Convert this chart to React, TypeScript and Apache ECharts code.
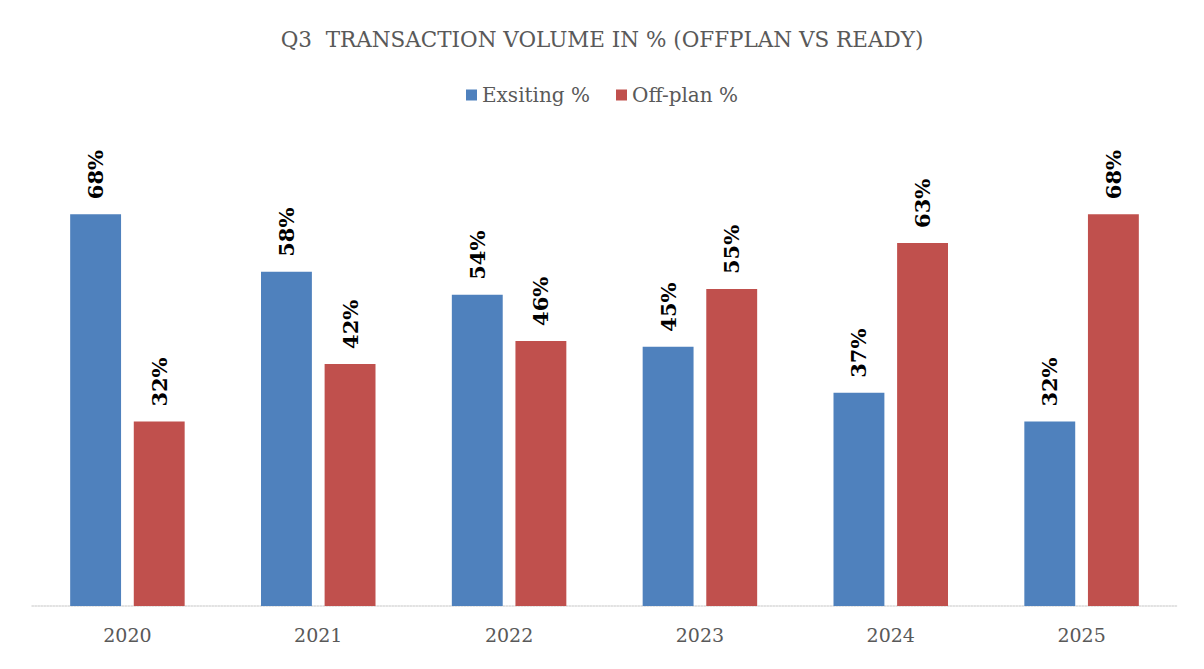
import React, { useEffect, useRef } from "react";
import * as echarts from "echarts";

const categories = ["2020", "2021", "2022", "2023", "2024", "2025"];
const existing = [68, 58, 54, 45, 37, 32];
const offplan = [32, 42, 46, 55, 63, 68];

export default function App() {
  const ref = useRef<HTMLDivElement>(null);
  useEffect(() => {
    const chart = echarts.init(ref.current!, null, { renderer: "svg" });
    const font = "'DejaVu Serif', 'Liberation Serif', serif";
    const label = {
      show: true,
      position: "top",
      rotate: 90,
      align: "left",
      verticalAlign: "middle",
      distance: 15,
      formatter: "{c}%",
      color: "#000",
      fontWeight: "bold",
      fontSize: 21,
      fontFamily: font,
    };
    chart.setOption({
      animation: false,
      backgroundColor: "#fff",
      title: {
        text: "Q3  TRANSACTION VOLUME IN % (OFFPLAN VS READY)",
        left: "center",
        top: 23,
        textStyle: { color: "#595959", fontSize: 21.5, fontWeight: "normal", fontFamily: font },
      },
      legend: {
        top: 80,
        left: "center",
        itemWidth: 11,
        itemHeight: 11,
        itemGap: 26,
        icon: "rect",
        textStyle: { color: "#595959", fontSize: 20, fontFamily: font },
        data: ["Exsiting %", "Off-plan %"],
      },
      grid: { left: 32, right: 27, top: 145, bottom: 63 },
      xAxis: {
        type: "category",
        data: categories,
        axisTick: { show: false },
        axisLine: { lineStyle: { color: "#d9d9d9", type: "dotted", width: 1.5 } },
        axisLabel: { color: "#595959", fontSize: 19, fontFamily: font, margin: 19 },
      },
      yAxis: {
        type: "value",
        min: 0,
        max: 80,
        show: false,
        splitLine: { show: false },
      },
      series: [
        {
          name: "Exsiting %",
          type: "bar",
          data: existing,
          barGap: "25%",
          barCategoryGap: "40%",
          itemStyle: { color: "#4f81bd" },
          label,
        },
        {
          name: "Off-plan %",
          type: "bar",
          data: offplan,
          barGap: "25%",
          barCategoryGap: "40%",
          itemStyle: { color: "#c0504d" },
          label,
        },
      ],
    });
    return () => chart.dispose();
  }, []);
  return (
    <div
      ref={ref}
      style={{ position: "absolute", left: 0, top: 0, width: 1204, height: 669 }}
    />
  );
}
